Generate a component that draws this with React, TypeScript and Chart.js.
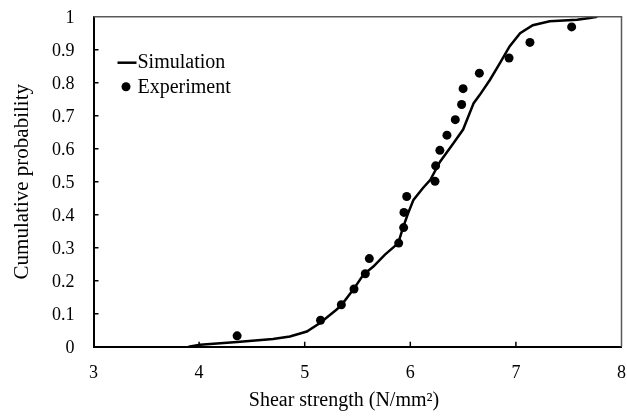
import { useEffect, useRef } from "react";
import { Chart, registerables } from "chart.js";

Chart.register(...registerables);

const seriesNames = ["Simulation", "Experiment"];
const xTitle = "Shear strength (N/mm²)";
const yTitle = "Cumulative probability";

const xTicks = [3, 4, 5, 6, 7, 8];
const xTickLabels = ["3", "4", "5", "6", "7", "8"];
const yTicks = [0, 0.1, 0.2, 0.3, 0.4, 0.5, 0.6, 0.7, 0.8, 0.9, 1];
const yTickLabels = ["0", "0.1", "0.2", "0.3", "0.4", "0.5", "0.6", "0.7", "0.8", "0.9", "1"];

const simStrength = [
  3.9, 4.01, 4.36, 4.7, 4.86, 5.02, 5.145, 5.3, 5.35, 5.46, 5.555, 5.65, 5.76, 5.886,
  5.93, 5.98, 6.03, 6.12, 6.19, 6.28, 6.41, 6.5, 6.6, 6.66, 6.755, 6.85, 6.94, 7.04,
  7.16, 7.32, 7.58, 7.7, 7.77,
];
const simProb = [
  0, 0.006, 0.014, 0.023, 0.031, 0.046, 0.072, 0.112, 0.127, 0.173, 0.218, 0.243, 0.279, 0.314,
  0.36, 0.405, 0.445, 0.481, 0.506, 0.56, 0.617, 0.658, 0.738, 0.764, 0.809, 0.86, 0.91, 0.95,
  0.974, 0.986, 0.991, 0.996, 1.0,
];

const expStrength = [
  4.36, 5.15, 5.347, 5.467, 5.574, 5.612, 5.89, 5.937, 5.94, 5.966, 6.234, 6.24, 6.28, 6.347,
  6.426, 6.486, 6.5, 6.654, 6.935, 7.133, 7.528,
];
const expProb = [
  0.033, 0.08, 0.127, 0.175, 0.221, 0.267, 0.314, 0.361, 0.407, 0.455, 0.501, 0.548, 0.595,
  0.641, 0.688, 0.734, 0.782, 0.829, 0.875, 0.922, 0.969,
];

const FONT = "'Liberation Serif', 'Times New Roman', serif";

const framePlugin = {
  id: "frameAndLegend",
  afterDraw(chart: any) {
    const ctx = chart.ctx;
    const { left, right, top, bottom } = chart.chartArea;
    const xs = chart.scales.x;
    const ys = chart.scales.y;
    ctx.save();
    // top and right frame
    ctx.strokeStyle = "#595959";
    ctx.lineWidth = 1.5;
    ctx.beginPath();
    ctx.moveTo(left, top);
    ctx.lineTo(right, top);
    ctx.lineTo(right, bottom);
    ctx.stroke();
    // inward tick marks
    ctx.strokeStyle = "#000";
    ctx.lineWidth = 1.5;
    ctx.beginPath();
    xTicks.forEach((v) => {
      const px = xs.getPixelForValue(v);
      if (px > left + 2 && px < right - 2) {
        ctx.moveTo(px, bottom);
        ctx.lineTo(px, bottom - 5);
      }
    });
    yTicks.forEach((v) => {
      const py = ys.getPixelForValue(v);
      if (py > top + 2 && py < bottom - 2) {
        ctx.moveTo(left, py);
        ctx.lineTo(left + 5, py);
      }
    });
    ctx.stroke();
    // legend
    ctx.fillStyle = "#000";
    ctx.font = `20px ${FONT}`;
    ctx.textBaseline = "alphabetic";
    ctx.textAlign = "left";
    ctx.strokeStyle = "#000";
    ctx.lineWidth = 2.5;
    ctx.beginPath();
    ctx.moveTo(left + 24, top + 46);
    ctx.lineTo(left + 43, top + 46);
    ctx.stroke();
    ctx.fillText(seriesNames[0], left + 44, top + 51.6);
    ctx.beginPath();
    ctx.arc(left + 32.5, top + 70, 4.5, 0, Math.PI * 2);
    ctx.fill();
    ctx.fillText(seriesNames[1], left + 44, top + 76.6);
    // x axis title
    ctx.textAlign = "center";
    ctx.fillText(xTitle, left + 250.5, 406);
    ctx.restore();
  },
};

export default function App() {
  const ref = useRef<HTMLCanvasElement>(null);
  useEffect(() => {
    document.body.style.margin = "0";
    const canvas = ref.current;
    if (!canvas) return;
    const chart = new Chart(canvas, {
      type: "scatter",
      data: {
        datasets: [
          {
            label: seriesNames[0],
            data: simStrength.map((x, i) => ({ x, y: simProb[i] })),
            showLine: true,
            borderColor: "#000",
            backgroundColor: "#000",
            borderWidth: 2.5,
            pointRadius: 0,
            tension: 0,
          },
          {
            label: seriesNames[1],
            data: expStrength.map((x, i) => ({ x, y: expProb[i] })),
            showLine: false,
            borderColor: "#000",
            backgroundColor: "#000",
            pointRadius: 4.5,
            pointBorderWidth: 0,
          },
        ],
      },
      plugins: [framePlugin],
      options: {
        responsive: false,
        animation: false,
        devicePixelRatio: 1,
        layout: { padding: { top: 16.7, right: 5.5, left: 0, bottom: 0 } },
        plugins: { legend: { display: false }, tooltip: { enabled: false } },
        scales: {
          x: {
            type: "linear",
            min: 3,
            max: 8,
            afterBuildTicks: (s: any) => {
              s.ticks = xTicks.map((v) => ({ value: v }));
            },
            afterFit: (s: any) => {
              s.height = 71.3;
              s.paddingLeft = 0;
              s.paddingRight = 0;
            },
            grid: { display: false, drawTicks: false },
            border: { display: true, color: "#000", width: 2 },
            ticks: {
              padding: 16,
              color: "#000",
              font: { family: FONT, size: 18 },
              maxRotation: 0,
              callback: (_v: any, i: number) => xTickLabels[i],
            },
            title: { display: false },
          },
          y: {
            type: "linear",
            min: 0,
            max: 1,
            afterBuildTicks: (s: any) => {
              s.ticks = yTicks.map((v) => ({ value: v }));
            },
            afterFit: (s: any) => {
              s.width = 93.5;
              s.paddingTop = 0;
              s.paddingBottom = 0;
            },
            grid: { display: false, drawTicks: false },
            border: { display: true, color: "#000", width: 2 },
            ticks: {
              padding: 19,
              labelOffset: 1.5,
              color: "#000",
              font: { family: FONT, size: 18 },
              callback: (_v: any, i: number) => yTickLabels[i],
            },
            title: {
              display: true,
              text: yTitle,
              color: "#000",
              font: { family: FONT, size: 21 },
              padding: { top: 10, bottom: 0 },
            },
          },
        },
      },
    });
    return () => chart.destroy();
  }, []);
  return (
    <div style={{ width: 627, height: 418, background: "#fff" }}>
      <canvas ref={ref} width={627} height={418} />
    </div>
  );
}
